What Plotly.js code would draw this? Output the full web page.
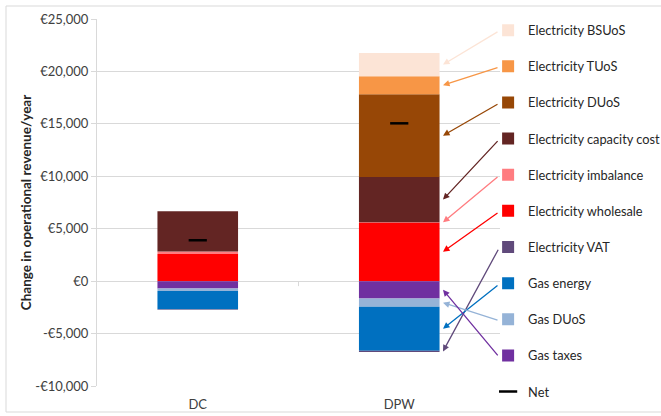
<!DOCTYPE html>
<html>
<head>
<meta charset="utf-8">
<script src="https://cdn.plot.ly/plotly-3.0.1.min.js"></script>
<style>html,body{margin:0;padding:0;background:#fff;}#chart{width:661px;height:416px;}</style>
</head>
<body>
<div id="chart"></div>
<script>
// ---- data ----
var categories = ['DC', 'DPW'];
var elecWholesale   = [2600, 5600];
var elecImbalance   = [220, 25];
var elecCapacity    = [3850, 4300];
var elecDUoS        = [0, 7900];
var elecTUoS        = [0, 1720];
var elecBSUoS       = [0, 2220];
var gasTaxes        = [-700, -1650];
var gasDUoS         = [-230, -800];
var gasEnergy       = [-1750, -4200];
var elecVAT         = [-50, -100];
var net             = [3900, 15050];

var yTickVals = [-10000, -5000, 0, 5000, 10000, 15000, 20000, 25000];
var yTickText = ['-€10,000', '-€5,000', '€0', '€5,000', '€10,000', '€15,000', '€20,000', '€25,000'];

var FONT = 'Lato, "Open Sans", sans-serif';
var TXT = '#404040';

// stacking order (relative barmode): positives from zero upward, negatives from zero downward
var series = [
  {name: 'Electricity wholesale',     y: elecWholesale, color: '#FF0000', rank: 6},
  {name: 'Electricity imbalance',     y: elecImbalance, color: '#FF7C80', rank: 5},
  {name: 'Electricity capacity cost', y: elecCapacity,  color: '#632523', rank: 4},
  {name: 'Electricity DUoS',          y: elecDUoS,      color: '#974706', rank: 3},
  {name: 'Electricity TUoS',          y: elecTUoS,      color: '#F79646', rank: 2},
  {name: 'Electricity BSUoS',         y: elecBSUoS,     color: '#FCE4D6', rank: 1},
  {name: 'Gas taxes',                 y: gasTaxes,      color: '#7030A0', rank: 10},
  {name: 'Gas DUoS',                  y: gasDUoS,       color: '#95B3D7', rank: 9},
  {name: 'Gas energy',                y: gasEnergy,     color: '#0070C0', rank: 8},
  {name: 'Electricity VAT',           y: elecVAT,       color: '#604A7B', rank: 7}
];

var traces = series.map(function (s) {
  return {
    type: 'bar', x: categories, y: s.y, name: s.name,
    marker: {color: s.color, line: {width: 0}},
    legendrank: s.rank, legendgroup: s.name,
    hoverinfo: 'name+y'
  };
});
traces.push({
  type: 'scatter', mode: 'markers', x: categories, y: net, name: 'Net',
  marker: {symbol: 'line-ew', size: 13, line: {width: 2.5, color: '#000000'}, color: '#000000'},
  legendrank: 11, legendgroup: 'Net'
});

// ---- geometry helpers for arrows ----
var L = 97, T = 19, W = 403, H = 367;
var yMin = -10000, yMax = 25000;
function pyToData(py) { return yMax - (py - T) / H * (yMax - yMin); }
function pxToX(px) { return -0.5 + (px - L) / W * 2; }

// midpoint of each series' segment in the DPW bar
var idx = 1;
var posBase = 0, negBase = 0, mids = {};
series.forEach(function (s) {
  var v = s.y[idx];
  if (v >= 0) { mids[s.name] = posBase + v / 2; posBase += v; }
  else { mids[s.name] = negBase + v / 2; negBase += v; }
});

var rowTop = 30, rowStep = 36.2;
var annotations = [];
series.slice().sort(function (a, b) { return a.rank - b.rank; }).forEach(function (s) {
  var rowPy = rowTop + (s.rank - 1) * rowStep;
  annotations.push({
    xref: 'x', yref: 'y', axref: 'x', ayref: 'y',
    x: pxToX(443), y: mids[s.name],
    ax: pxToX(499), ay: pyToData(rowPy + 1),
    text: '', showarrow: true, arrowhead: 2, arrowsize: 1, arrowwidth: 1.3,
    arrowcolor: s.color, standoff: 0, startstandoff: 0
  });
});

var layout = {
  width: 661, height: 416,
  margin: {l: L, r: 661 - L - W, t: T, b: 416 - T - H, pad: 0, autoexpand: false},
  paper_bgcolor: '#ffffff', plot_bgcolor: '#ffffff',
  barmode: 'relative', bargap: 0.6,
  font: {family: FONT, size: 13, color: TXT},
  showlegend: true,
  legend: {
    x: 0.9705, xanchor: 'left', y: 1.01, yanchor: 'top',
    font: {family: FONT, size: 12.8, color: '#262626'},
    tracegroupgap: 16.5, bgcolor: 'rgba(0,0,0,0)',
    traceorder: 'grouped', maxheight: 600
  },
  xaxis: {
    type: 'category', range: [-0.5, 1.5],
    showgrid: false, showline: false, zeroline: false,
    ticks: '', tickfont: {family: FONT, size: 13, color: TXT},
    ticklabelstandoff: 9, fixedrange: true
  },
  yaxis: {
    range: [yMin, yMax], tickvals: yTickVals, ticktext: yTickText,
    showgrid: true, gridcolor: '#D9D9D9', gridwidth: 1,
    zeroline: true, zerolinecolor: '#D9D9D9', zerolinewidth: 1,
    showline: true, linecolor: '#D9D9D9', linewidth: 1,
    ticks: 'outside', ticklen: 5, tickcolor: '#D9D9D9',
    tickfont: {family: FONT, size: 13, color: TXT},
    title: {text: 'Change in operational revenue/year', standoff: 0,
            font: {family: FONT, size: 13.5, color: '#262626', weight: 'bold'}},
    fixedrange: true
  },
  shapes: [
    {type: 'rect', xref: 'paper', yref: 'paper',
     x0: (6 - L) / W, x1: (666 - L) / W, y0: (T + H - 412) / H, y1: (T + H - 6) / H,
     line: {color: '#D9D9D9', width: 1}, fillcolor: 'rgba(0,0,0,0)', layer: 'below'},
    {type: 'line', xref: 'x', yref: 'y', ysizemode: 'pixel', yanchor: 0,
     x0: 0.5, x1: 0.5, y0: 0, y1: -5, line: {color: '#D9D9D9', width: 1}}
  ],
  annotations: annotations
};

Plotly.newPlot('chart', traces, layout, {displayModeBar: false, staticPlot: true});
</script>
</body>
</html>
